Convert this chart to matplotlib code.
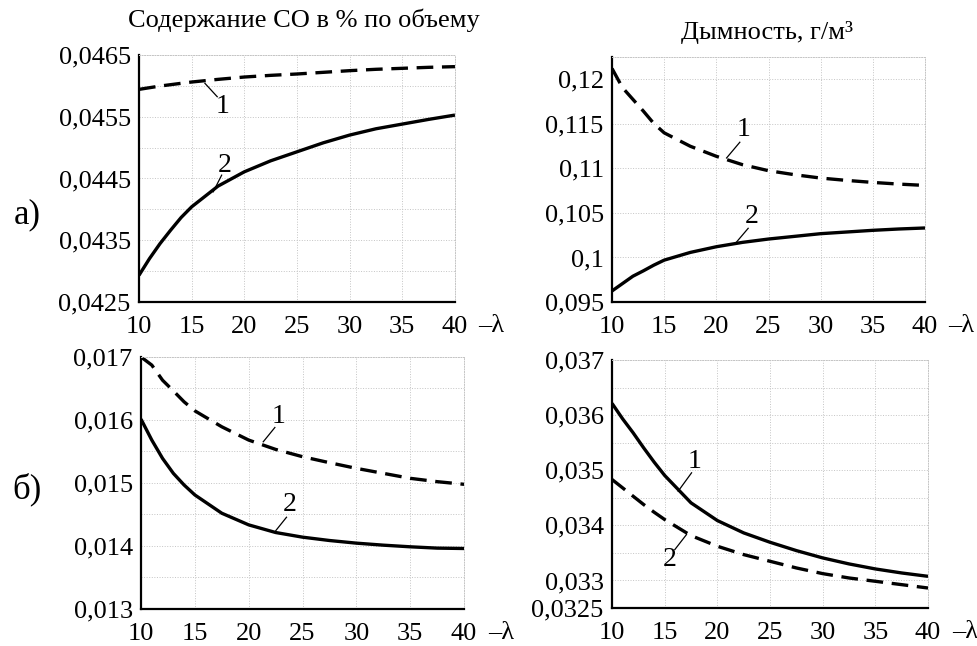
import matplotlib
matplotlib.use("Agg")
import matplotlib.pyplot as plt
from matplotlib.ticker import FuncFormatter, MultipleLocator

# lambda values (x axis)
lam = [10, 11, 12, 13, 14, 15, 17.5, 20, 22.5, 25, 27.5, 30, 32.5, 35, 37.5, 40]

# a) CO content, % by volume
co_a_1 = [0.045943, 0.045970, 0.045997, 0.046019, 0.046041, 0.046062, 0.046105, 0.046143,
          0.046170, 0.046192, 0.046219, 0.046246, 0.046268, 0.046284, 0.046300, 0.046311]
co_a_2 = [0.042932, 0.043203, 0.043446, 0.043662, 0.043868, 0.044041, 0.044376, 0.044608,
          0.044786, 0.044932, 0.045078, 0.045203, 0.045305, 0.045381, 0.045457, 0.045527]

# a) smoke, g/m3
sm_a_1 = [0.121203, 0.119060, 0.117744, 0.116429, 0.115038, 0.113985, 0.112481, 0.111353,
          0.110414, 0.109737, 0.109286, 0.108910, 0.108647, 0.108421, 0.108233, 0.108083]
sm_a_2 = [0.096241, 0.097068, 0.097895, 0.098496, 0.099135, 0.099699, 0.100564, 0.101203,
          0.101692, 0.102068, 0.102368, 0.102669, 0.102857, 0.103045, 0.103195, 0.103308]

# b) CO content
co_b_1 = [0.017000, 0.016871, 0.016631, 0.016462, 0.016288, 0.016145, 0.015892, 0.015681,
          0.015533, 0.015417, 0.015322, 0.015232, 0.015153, 0.015074, 0.015021, 0.014979]
co_b_2 = [0.016013, 0.015681, 0.015390, 0.015153, 0.014968, 0.014810, 0.014520, 0.014335,
          0.014214, 0.014140, 0.014087, 0.014045, 0.014013, 0.013987, 0.013966, 0.013960]

# b) smoke
sm_b_1 = [0.036213, 0.035934, 0.035680, 0.035407, 0.035147, 0.034905, 0.034408, 0.034087,
          0.033863, 0.033693, 0.033542, 0.033409, 0.033300, 0.033209, 0.033136, 0.033075]
sm_b_2 = [0.034832, 0.034681, 0.034529, 0.034378, 0.034238, 0.034105, 0.033814, 0.033621,
          0.033469, 0.033348, 0.033227, 0.033124, 0.033045, 0.032985, 0.032924, 0.032863]

x_ticks = [10, 15, 20, 25, 30, 35, 40]
title_co = "Содержание СО в % по объему"
title_smoke = "Дымность, г/м³"

plt.rcParams["font.family"] = ["Liberation Serif", "DejaVu Serif"]

fig = plt.figure(figsize=(9.78, 6.46), dpi=100)

panels = [
    dict(rect=[0.1421, 0.5325, 0.3231, 0.3824], y1=co_a_1, d1=True, y2=co_a_2,
         ylim=(0.0425, 0.0465), yticks=[0.0425, 0.0435, 0.0445, 0.0455, 0.0465], minor=0.0005,
         lab1=((17.95, 0.045662), (16.26, 0.046041), (17.43, 0.045824)),
         lab2=((18.16, 0.044716), (17.05, 0.044284), (17.85, 0.044554))),
    dict(rect=[0.6258, 0.5325, 0.3200, 0.3793], y1=sm_a_1, d1=True, y2=sm_a_2,
         ylim=(0.095, 0.1225), yticks=[0.095, 0.1, 0.105, 0.11, 0.115, 0.12], minor=None,
         lab1=((22.57, 0.114361), (20.98, 0.111165), (22.25, 0.112932)),
         lab2=((23.37, 0.104586), (21.77, 0.101504), (23.05, 0.103271))),
    dict(rect=[0.1442, 0.0573, 0.3303, 0.3901], y1=co_b_1, d1=True, y2=co_b_2,
         ylim=(0.013, 0.017), yticks=[0.013, 0.014, 0.015, 0.016, 0.017], minor=0.0005,
         lab1=((22.74, 0.016050), (21.35, 0.015654), (22.43, 0.015881)),
         lab2=((23.82, 0.014652), (22.52, 0.014245), (23.51, 0.014456))),
    dict(rect=[0.6258, 0.0588, 0.3231, 0.3839], y1=sm_b_1, d1=False, y2=sm_b_2,
         ylim=(0.0325, 0.037), yticks=[0.0325, 0.033, 0.034, 0.035, 0.036, 0.037], minor=0.0005,
         lab1=((17.86, 0.035165), (16.28, 0.034620), (17.55, 0.034953)),
         lab2=((15.49, 0.033378), (17.07, 0.033833), (15.96, 0.033560))),
]

fmt = FuncFormatter(lambda v, pos: f"{v:g}".replace(".", ","))

for p in panels:
    ax = fig.add_axes(p["rect"])
    solid = dict(color="black", lw=2.4, solid_capstyle="butt")
    dashed = dict(color="black", lw=2.4, dashes=(5, 2.6))
    ax.plot(lam, p["y1"], **(dashed if p["d1"] else solid))
    ax.plot(lam, p["y2"], **(solid if p["d1"] else dashed))

    ax.set_xlim(10, 40)
    ax.set_ylim(*p["ylim"])
    ax.set_xticks(x_ticks)
    ax.set_yticks(p["yticks"])
    ax.yaxis.set_major_formatter(fmt)
    if p["minor"]:
        ax.yaxis.set_minor_locator(MultipleLocator(p["minor"]))
    ax.grid(True, which="both", color="#c4c4c4", lw=0.7, ls=":")
    ax.tick_params(which="both", length=0, labelsize=19)
    ax.tick_params(axis="y", pad=6)
    ax.tick_params(axis="x", pad=10)
    for s in ("left", "bottom"):
        ax.spines[s].set_linewidth(1.6)
        ax.spines[s].set_color("black")
    for s in ("top", "right"):
        ax.spines[s].set_color("#c4c4c4")
        ax.spines[s].set_linewidth(0.7)
        ax.spines[s].set_linestyle(":")

    for txt, lab in (("1", p["lab1"]), ("2", p["lab2"])):
        (tx, ty), (x0, y0), (x1, y1) = lab
        ax.plot([x0, x1], [y0, y1], color="black", lw=0.9)
        ax.text(tx, ty, txt, fontsize=20, ha="center", va="center")

    ax.annotate("–λ", xy=(1, 0), xycoords="axes fraction", xytext=(17, -17),
                textcoords="offset points", fontsize=19, ha="left", va="center")

fig.text(0.311, 0.969, title_co, fontsize=19, ha="center", va="center")
fig.text(0.784, 0.950, title_smoke, fontsize=19, ha="center", va="center")
fig.text(0.028, 0.667, "а)", fontsize=25, ha="center", va="center")
fig.text(0.028, 0.242, "б)", fontsize=25, ha="center", va="center")

fig.savefig("out.png", dpi=100)
